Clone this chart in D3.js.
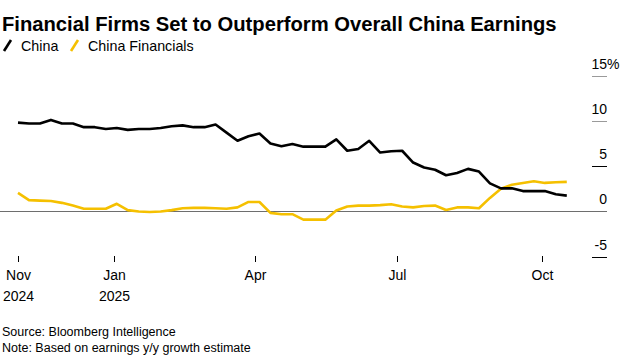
<!DOCTYPE html>
<html>
<head>
<meta charset="utf-8">
<script src="https://cdn.jsdelivr.net/npm/d3@7"></script>
<style>
  html, body { margin: 0; padding: 0; background: #fff; }
  svg { display: block; font-family: "Liberation Sans", Arial, sans-serif; }
</style>
</head>
<body>
<svg id="chart" width="625" height="357"></svg>
<script>
// ---- data ----
const startDate = "2024-11-01"; // weekly observations (Fridays)
const chinaValues = [
  9.8, 9.7, 9.7, 10.1, 9.7, 9.7, 9.3, 9.3, 9.1, 9.2,
  9.0, 9.1, 9.1, 9.2, 9.4, 9.5, 9.3, 9.3, 9.6, 8.7,
  7.8, 8.3, 8.6, 7.5, 7.2, 7.45, 7.15, 7.15, 7.15, 7.95,
  6.7, 6.9, 7.8, 6.5, 6.65, 6.7, 5.4, 4.85, 4.6, 4.0,
  4.25, 4.7, 4.4, 3.1, 2.55, 2.55, 2.25, 2.25, 2.25, 1.9,
  1.75
];
const financialsValues = [
  2.05, 1.25, 1.2, 1.15, 0.95, 0.65, 0.3, 0.3, 0.3, 0.85,
  0.15, 0.0, -0.05, 0.0, 0.15, 0.35, 0.4, 0.4, 0.35, 0.3,
  0.45, 1.05, 1.05, -0.15, -0.3, -0.3, -0.9, -0.9, -0.9, 0.1,
  0.55, 0.65, 0.65, 0.7, 0.8, 0.55, 0.45, 0.6, 0.65, 0.17,
  0.45, 0.45, 0.35, 1.5, 2.5, 2.95, 3.15, 3.33, 3.15, 3.22,
  3.27
];
const seriesNames = ["China", "China Financials"];
const seriesColors = ["#000000", "#f5c000"];
const yTicks = [15, 10, 5, 0, -5];
const xTickDates = ["2024-11-01", "2025-01-01", "2025-04-01", "2025-07-01", "2025-10-01"];
const xTickLabels = [["Nov", "2024"], ["Jan", "2025"], ["Apr"], ["Jul"], ["Oct"]];
const titleText = "Financial Firms Set to Outperform Overall China Earnings";
const sourceText = "Source: Bloomberg Intelligence";
const noteText = "Note: Based on earnings y/y growth estimate";

// ---- build ----
const parse = d3.utcParse("%Y-%m-%d");
const t0 = parse(startDate);
const dates = chinaValues.map((_, i) => d3.utcDay.offset(t0, 7 * i));
const series = [chinaValues, financialsValues];

const svg = d3.select("#chart");

const x = d3.scaleUtc()
  .domain([parse("2024-11-01"), parse("2025-10-01")])
  .range([18, 541.7]);
const y = d3.scaleLinear().domain([-5, 15]).range([256.8, 75.5]);

// title
const title = svg.append("text")
  .attr("x", 2).attr("y", 31)
  .attr("font-weight", "bold")
  .attr("font-size", 18)
  .attr("fill", "#000")
  .text(titleText);
const tw = title.node().getComputedTextLength();
title.attr("font-size", 18 * 555 / tw);

// legend
const legend = svg.append("g");
const legendItems = [{x: 3, tx: 21}, {x: 70, tx: 88}];
seriesNames.forEach((name, i) => {
  const g = legend.append("g");
  g.append("line")
    .attr("x1", legendItems[i].x + 1).attr("y1", 51)
    .attr("x2", legendItems[i].x + 8).attr("y2", 40)
    .attr("stroke", seriesColors[i]).attr("stroke-width", 2.6)
    .attr("stroke-linecap", "butt");
  g.append("text")
    .attr("x", legendItems[i].tx).attr("y", 50.5)
    .attr("font-size", 14.3).attr("fill", "#000")
    .text(name);
});

// y axis (right)
const yAxisG = svg.append("g");
yTicks.forEach(v => {
  const yy = Math.round(y(v)) + 0.5;
  yAxisG.append("line")
    .attr("x1", 592).attr("x2", 607)
    .attr("y1", yy).attr("y2", yy)
    .attr("stroke", v > 5 ? "#9a9a9a" : "#000")
    .attr("stroke-width", 1);
  yAxisG.append("text")
    .attr("x", 607).attr("y", yy - 8)
    .attr("text-anchor", "end")
    .attr("font-size", 14).attr("fill", "#000")
    .text(v);
  if (v === 15) {
    yAxisG.append("text")
      .attr("x", 607).attr("y", yy - 8)
      .attr("font-size", 14).attr("fill", "#000")
      .text("%");
  }
});

// zero line
svg.append("line")
  .attr("x1", 0).attr("x2", 607)
  .attr("y1", Math.round(y(0)) + 0.5).attr("y2", Math.round(y(0)) + 0.5)
  .attr("stroke", "#6e6e6e").attr("stroke-width", 1);

// x axis
const xAxisG = svg.append("g");
xTickDates.forEach((ds, i) => {
  const xx = Math.round(x(parse(ds))) + 0.5;
  xAxisG.append("line")
    .attr("x1", xx).attr("x2", xx)
    .attr("y1", 256).attr("y2", 262)
    .attr("stroke", "#000").attr("stroke-width", 1);
  xTickLabels[i].forEach((lab, j) => {
    xAxisG.append("text")
      .attr("x", xx).attr("y", 280 + j * 21)
      .attr("text-anchor", "middle")
      .attr("font-size", 14).attr("fill", "#000")
      .text(lab);
  });
});

// lines
const line = d3.line()
  .x((d, i) => x(dates[i]))
  .y(d => y(d));
[1, 0].forEach(k => {
  svg.append("path")
    .datum(series[k])
    .attr("d", line)
    .attr("fill", "none")
    .attr("stroke", seriesColors[k])
    .attr("stroke-width", 2.6)
    .attr("stroke-linejoin", "round");
});

// footer
svg.append("text").attr("x", 2).attr("y", 335.5)
  .attr("font-size", 12.5).attr("fill", "#000").text(sourceText);
svg.append("text").attr("x", 2).attr("y", 351.5)
  .attr("font-size", 12.5).attr("fill", "#000").text(noteText);
</script>
</body>
</html>
